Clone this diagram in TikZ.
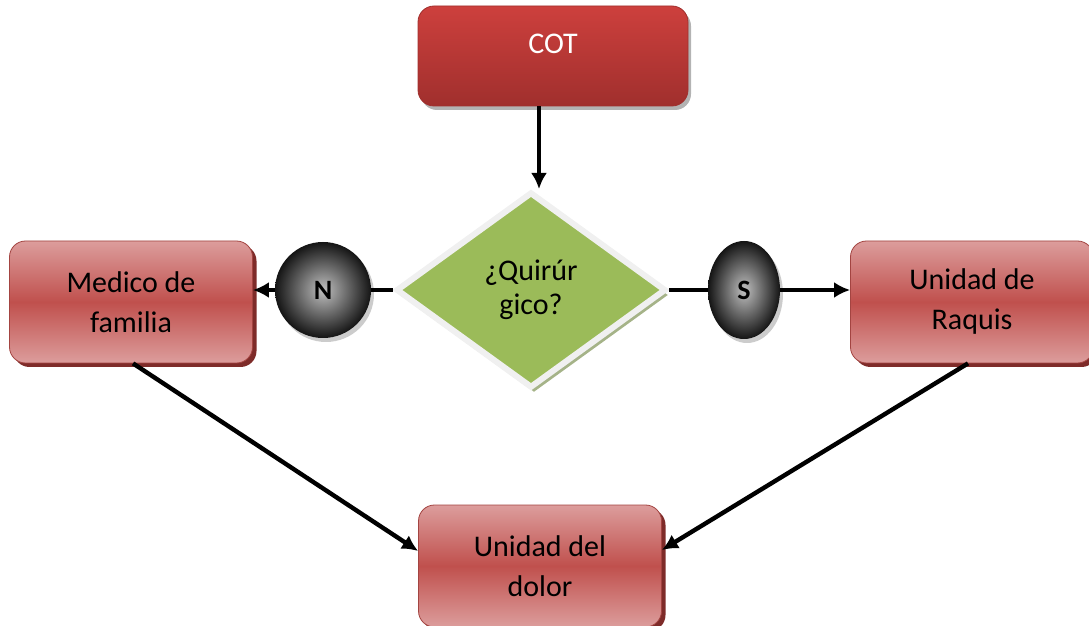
\documentclass[tikz,border=0pt]{standalone}
\usepackage{fontspec}
\setmainfont{Carlito}
\usetikzlibrary{shapes.geometric,shadows,arrows.meta}
\definecolor{boxred}{HTML}{C0504D}
\definecolor{boxlight}{HTML}{DC9D9C}
\definecolor{boxdark}{HTML}{7E2B29}
\definecolor{cottop}{HTML}{CD403D}
\definecolor{cotbot}{HTML}{A02F2D}
\definecolor{qgreen}{HTML}{9BBB59}
\begin{document}
\begin{tikzpicture}
	[x=0.5pt, y=-0.5pt,
	font=\fontsize{15}{20}\selectfont,
	box/.style={rectangle,rounded corners=8pt,draw=boxred!85!black,thin,
		minimum width=121.5pt,minimum height=61pt,align=center,
		top color=boxlight,bottom color=boxlight,middle color=boxred,
		drop shadow={shadow xshift=2pt,shadow yshift=-2pt,fill=boxdark,opacity=1}},
	cot/.style={rectangle,rounded corners=8pt,draw=cotbot,thin,
		minimum width=135pt,minimum height=50pt,text=white,
		text height=10pt,text depth=12pt,
		top color=cottop,bottom color=cotbot,
		drop shadow={shadow xshift=1.5pt,shadow yshift=-2pt,fill=gray,opacity=.6}},
	decision/.style={diamond,fill=qgreen,draw=black!6,line width=3pt,
		minimum width=135pt,minimum height=98pt,inner sep=0pt,align=center,
		font=\fontsize{15}{17}\selectfont,
		drop shadow={shadow xshift=1.5pt,shadow yshift=-2.5pt,fill=qgreen!55!gray,opacity=.8}},
	answer/.style={inner color=gray!50,outer color=black!92,font=\fontsize{14}{20}\selectfont\bfseries,
		drop shadow={shadow xshift=1.5pt,shadow yshift=-2pt,opacity=.4}},
	line/.style={line width=2.2pt},
	arrow/.style={line width=2.2pt,-{Latex[length=8pt,width=8pt]}}]
	\useasboundingbox (0,0) rectangle (1089,626);
	\node (cot) at (553, 56) [cot] {COT};
	\node (dia) at (531, 290) [decision] {¿Quirúr\\gico?};
	\node (n) at (323, 290) [answer,circle,minimum size=48pt] {N};
	\node (s) at (744, 290) [answer,ellipse,minimum width=36pt,minimum height=49pt,inner sep=0pt] {S};
	\node (medico) at (131, 302) [box] {Medico de\\familia};
	\node (raquis) at (972, 302) [box] {Unidad de\\Raquis};
	\node (dolor) at (540, 566) [box] {Unidad del\\dolor};
	\draw [arrow] ([xshift=-7pt]cot.south) to ([xshift=4pt]dia.north);
	\draw [line] (dia.west) to (n.east);
	\draw [arrow] (n.west) to (n.west -| medico.east);
	\draw [line] (dia.east) to (s.west);
	\draw [arrow] (s.east) to (s.east -| raquis.west);
	\draw [arrow] ([xshift=1pt]medico.south) to ([yshift=7.5pt]dolor.west);
	\draw [arrow] ([xshift=-2pt]raquis.south) to ([yshift=8pt]dolor.east);
\end{tikzpicture}
\end{document}
